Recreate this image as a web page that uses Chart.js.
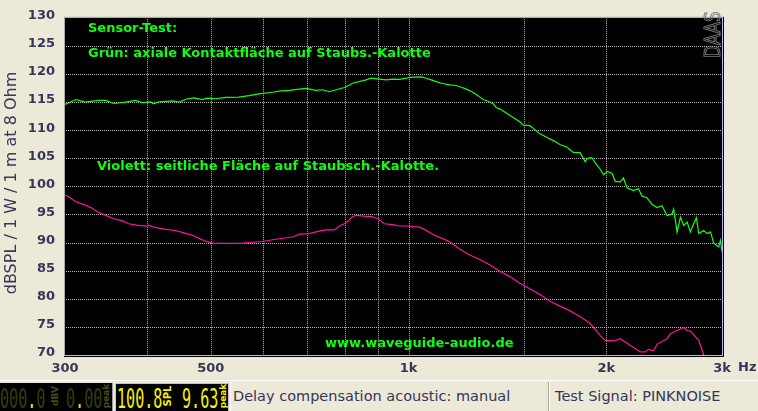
<!DOCTYPE html>
<html>
<head>
<meta charset="utf-8">
<script src="https://cdn.jsdelivr.net/npm/chart.js@4.4.1/dist/chart.umd.min.js"></script>
<style>
  html, body { margin:0; padding:0; background:#ECE9D8; width:758px; height:411px; overflow:hidden; }
  #wrap { position:absolute; left:0; top:0; width:758px; height:380px; }
  .abs { position:absolute; }
  .lcdtxt { position:absolute; font:26px "DejaVu Sans Mono"; line-height:1; transform-origin:0 0; transform:scaleX(0.58); white-space:nowrap; }
  .rot { position:absolute; font:bold 9px "DejaVu Sans"; line-height:1; white-space:nowrap; transform:translate(-50%,-50%) rotate(-90deg); }
  .sbtxt { position:absolute; font:14.5px "DejaVu Sans"; color:#363658; white-space:nowrap; line-height:1; }
</style>
</head>
<body>
<div id="wrap"><canvas id="c" width="758" height="380"></canvas></div>

<!-- status bar -->
<div class="abs" style="left:0;top:380px;width:758px;height:1px;background:#ffffff"></div>
<div class="abs" style="left:0;top:383px;width:112px;height:28px;background:#000;border-right:1px solid #9a9a9a"></div>
<div class="abs" style="left:115px;top:383px;width:112px;height:27px;background:#000;border:1px solid #c8c8c8"></div>
<div class="abs" style="left:230px;top:382px;width:317px;height:29px;border-left:1px solid #ffffff;border-right:1px solid #aca899"></div>
<div class="abs" style="left:549px;top:382px;width:209px;height:29px;border-left:1px solid #ffffff"></div>

<div class="lcdtxt" style="left:0px;top:386px;color:#3a3a12">000<span style="color:#e8e800">.</span>0</div>
<div class="rot" style="left:55px;top:396px;color:#4a4a18">dBV</div>
<div class="lcdtxt" style="left:66px;top:386px;color:#3a3a12">0<span style="color:#e8e800">.</span>00</div>
<div class="rot" style="left:106px;top:396px;color:#4a4a18">peak</div>

<div class="lcdtxt" style="left:117px;top:386px;color:#f4f400">100.8</div>
<div class="rot" style="left:168px;top:396px;color:#f4f400;font-size:10px">SPL</div>
<div class="lcdtxt" style="left:182px;top:386px;color:#f4f400">9.63</div>
<div class="rot" style="left:223px;top:396px;color:#f4f400">peak</div>

<div class="sbtxt" style="left:233px;top:389px">Delay compensation acoustic: manual</div>
<div class="sbtxt" style="left:555px;top:389px">Test Signal: PINKNOISE</div>

<script>
// ---------- data ----------
const freqGreen = [300,312,322,337,346,356,371,384,393,405,
  409,417,437,447,460,471,485,494,509,527,
  552,572,592,621,636,658,682,698,723,740,
  758,776,799,813,822,862,877,903,925,946,
  969,992,1004,1046,1064,1083,1102,1122,1155,1182,
  1204,1225,1247,1276,1298,1322,1345,1361,1377,1410,
  1443,1477,1494,1530,1557,1585,1623,1661,1700,1741,
  1782,1824,1857,1868,1901,1935,1957,1980,2004,2040,
  2063,2100,2124,2150,2200,2239,2266,2306,2347,2389,
  2431,2474,2518,2532,2563,2593,2623,2655,2685,2716,
  2743,2765,2814,2848,2881,2915,2966,2984,3000];
const splGreen = [114.6,115.45,115.0,115.3,115.3,114.75,115.0,115.3,114.9,115.05,
  114.7,115.05,115.2,115.0,115.55,115.75,115.45,115.7,115.6,115.85,
  115.9,116.15,116.45,116.75,116.95,117.1,117.3,117.45,117.1,117.2,
  116.85,117.2,117.6,118.05,118.35,118.95,119.25,119.1,118.95,119.1,
  119.05,119.25,119.4,119.5,119.25,118.95,118.65,118.35,118.05,117.95,
  117.65,117.3,116.9,116.15,115.45,115.15,114.7,114.0,113.8,113.0,
  112.25,111.5,110.9,110.8,110.1,109.35,108.75,108.15,107.45,107.0,
  106.05,106.0,104.4,104.95,105.1,103.8,103.1,102.05,102.65,102.35,
  100.9,100.8,101.5,99.75,99.25,99.6,98.3,98.0,96.8,96.25,
  96.55,94.8,95.1,95.95,91.9,94.5,93.05,93.65,91.9,93.35,
  94.4,91.6,92.15,91.6,91.9,89.85,89.25,90.4,88.4];

const freqViolet = [300,304,311,320,330,337,346,356,366,375,
  388,399,402,409,427,442,458,469,480,491,
  503,527,559,599,628,666,682,706,731,749,
  771,785,803,822,832,862,877,898,919,946,
  969,992,1039,1058,1089,1128,1155,1196,1239,1284,
  1329,1377,1426,1477,1530,1585,1642,1700,1762,1824,
  1890,1957,1992,2051,2100,2175,2253,2293,2319,2361,
  2389,2474,2503,2563,2623,2655,2685,2765,2814,2840];
const splViolet = [98.45,98.15,97.3,96.8,96.1,95.4,94.85,94.25,93.9,93.35,
  93.05,92.95,93.1,92.75,92.35,92.15,91.65,91.3,90.75,90.25,
  89.9,89.85,89.9,90.2,90.6,91.0,91.5,91.6,92.05,92.25,
  92.25,92.95,93.5,94.65,94.85,94.65,94.65,94.25,93.35,93.2,
  92.95,92.95,92.75,92.35,91.45,90.7,90.15,88.85,87.8,87.0,
  86.05,84.9,83.95,82.75,81.8,80.75,79.55,78.7,77.85,76.85,
  75.6,73.5,72.6,72.5,72.9,71.75,70.55,70.55,71.0,70.75,
  71.9,72.9,73.8,74.35,74.9,74.35,74.25,72.6,70.0,69.0];

const xTickValues = [300,400,500,600,700,800,900,1000,1500,2000,3000];
const xTickLabels = ['300','','500','','','','','1k','','2k','3k'];
const yMin = 70, yMax = 130, yStep = 5;

const annotations = [
  'Sensor-Test:',
  'Grün: axiale Kontaktfläche auf Staubs.-Kalotte',
  'Violett: seitliche Fläche auf Staubsch.-Kalotte.',
  'www.waveguide-audio.de'
];
const yTitle = 'dBSPL / 1 W / 1 m at 8 Ohm';
const xUnit = 'Hz';
const watermark = 'DAAS';

// ---------- chart ----------
Chart.defaults.font.family = '"DejaVu Sans"';
const toPts = (f, v) => f.map((x, i) => ({x: x, y: v[i]}));

function drawGrid(chart) {
  const {ctx, chartArea: a, scales} = chart;
  if (!scales || !scales.x || !scales.y) return;
  ctx.save();
  ctx.strokeStyle = '#b8b8b8';
  ctx.lineWidth = 1;
  ctx.setLineDash([1, 1]);
  ctx.beginPath();
  xTickValues.forEach(v => {
    const px = Math.round(scales.x.getPixelForValue(v)) + 0.5;
    if (px <= a.left + 2 || px >= a.right - 2) return;
    ctx.moveTo(px, a.top + 1);
    ctx.lineTo(px, a.bottom);
  });
  for (let v = yMin + yStep; v < yMax; v += yStep) {
    const py = Math.round(scales.y.getPixelForValue(v)) + 0.5;
    ctx.moveTo(a.left + 1, py);
    ctx.lineTo(a.right, py);
  }
  ctx.stroke();
  ctx.restore();
}

const deco = {
  id: 'deco',
  beforeDraw(chart) {
    const {ctx, chartArea: a} = chart;
    ctx.save();
    ctx.fillStyle = '#000';
    ctx.fillRect(a.left, a.top, a.right - a.left, a.bottom - a.top);
    ctx.restore();
    drawGrid(chart);
  },
  afterDraw(chart) {
    const {ctx, chartArea: a} = chart;
    const w = a.right - a.left, h = a.bottom - a.top;
    ctx.save();
    // frame
    ctx.fillStyle = '#a8a8a8';
    ctx.fillRect(a.left - 1, a.top - 1, w + 2, 1);
    ctx.fillRect(a.left - 1, a.top - 1, 1, h + 2);
    ctx.fillStyle = '#b4b4ff';
    ctx.fillRect(a.right, a.top - 1, 1, h + 2);
    ctx.fillRect(a.left - 1, a.bottom, w + 2, 1);
    ctx.fillStyle = '#000';
    ctx.fillRect(a.right + 1, a.top - 1, 1, h + 3);
    ctx.fillRect(a.left - 1, a.bottom + 1, w + 3, 1);

    // annotations
    ctx.fillStyle = '#10ff10';
    ctx.font = 'bold 13px "DejaVu Sans"';
    ctx.textBaseline = 'alphabetic';
    ctx.textAlign = 'left';
    ctx.fillText(annotations[0], 88, 32);
    ctx.fillText(annotations[1], 88, 56.5);
    ctx.fillText(annotations[2], 97, 170);
    ctx.fillText(annotations[3], 325, 347);

    // watermark
    ctx.save();
    ctx.translate(720, 58);
    ctx.rotate(-Math.PI / 2);
    ctx.scale(0.8, 1);
    ctx.font = '21px "DejaVu Sans"';
    ctx.strokeStyle = '#7a7a7a';
    ctx.lineWidth = 1;
    ctx.strokeText(watermark, 0, 0);
    ctx.restore();

    // y title
    ctx.save();
    ctx.translate(12, 183);
    ctx.rotate(-Math.PI / 2);
    ctx.textAlign = 'center';
    ctx.textBaseline = 'middle';
    ctx.font = '16px "DejaVu Sans"';
    ctx.fillStyle = '#363658';
    ctx.fillText(yTitle, 0, 0);
    ctx.restore();

    // unit
    ctx.font = 'bold 13px "DejaVu Sans"';
    ctx.fillStyle = '#363658';
    ctx.textAlign = 'left';
    ctx.textBaseline = 'middle';
    ctx.fillText(xUnit, 738, 367.5);
    ctx.restore();
  }
};

new Chart(document.getElementById('c'), {
  type: 'line',
  data: {
    datasets: [
      { data: toPts(freqViolet, splViolet), borderColor: '#ff12a0', borderWidth: 1.2, pointRadius: 0, tension: 0 },
      { data: toPts(freqGreen, splGreen), borderColor: '#14ff14', borderWidth: 1.2, pointRadius: 0, tension: 0 }
    ]
  },
  options: {
    responsive: false,
    animation: false,
    devicePixelRatio: 1,
    layout: { padding: { left: 0, right: 36, top: 10, bottom: 0 } },
    plugins: { legend: { display: false }, tooltip: { enabled: false } },
    scales: {
      x: {
        type: 'logarithmic',
        min: 300, max: 3000,
        afterBuildTicks(s) { s.ticks = xTickValues.map(v => ({value: v})); },
        afterFit(s) { s.height = 25; },
        ticks: {
          autoSkip: false, maxRotation: 0, padding: 6,
          color: '#363658',
          font: { size: 13, weight: 'bold' },
          callback(v) { const i = xTickValues.indexOf(v); return i >= 0 ? xTickLabels[i] : ''; }
        },
        grid: { display: false, drawTicks: false },
        border: { display: false }
      },
      y: {
        min: yMin, max: yMax,
        afterFit(s) { s.width = 65; },
        ticks: {
          stepSize: yStep, padding: 10, labelOffset: -2,
          color: '#363658',
          font: { size: 13, weight: 'bold' }
        },
        grid: { display: false, drawTicks: false },
        border: { display: false }
      }
    }
  },
  plugins: [deco]
});
</script>
</body>
</html>
